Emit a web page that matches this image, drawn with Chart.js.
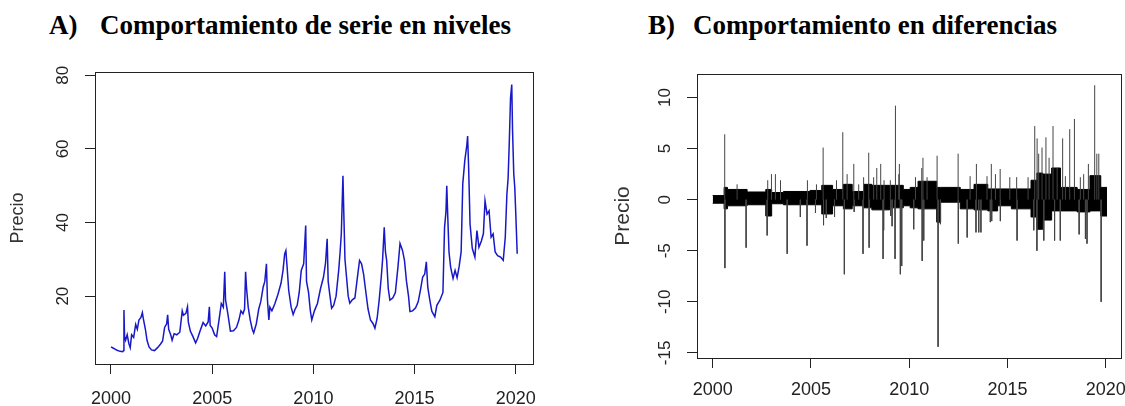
<!DOCTYPE html>
<html lang="es">
<head>
<meta charset="UTF-8">
<title>Comportamiento del precio</title>
<script src="https://cdn.jsdelivr.net/npm/chart.js"></script>
<style>
  body { margin: 0; background: #fff; width: 1125px; height: 406px; position: relative; overflow: hidden; }
  .titulo { position: absolute; top: 12px; font-family: "Liberation Serif", "Times New Roman", serif; font-weight: bold; font-size: 27px; line-height: 27px; color: #000; white-space: nowrap; }
  canvas { position: absolute; }
</style>
</head>
<body>
<div class="titulo" style="left:49px">A)</div>
<div class="titulo" style="left:100px">Comportamiento de serie en niveles</div>
<div class="titulo" style="left:648px">B)</div>
<div class="titulo" style="left:693px">Comportamiento en diferencias</div>
<canvas id="niveles" width="560" height="361" style="left:0;top:45px"></canvas>
<canvas id="diferencias" width="535" height="361" style="left:590px;top:45px"></canvas>
<script>
// ticks
const yearTicks = [2000, 2005, 2010, 2015, 2020];
const nivelTicks = [20, 40, 60, 80];
const difTicks = [-15, -10, -5, 0, 5, 10];

// A) price level
const nivelAnio = [
  2000.00, 2000.10, 2000.20, 2000.30, 2000.45, 2000.58, 2000.62, 2000.64, 2000.67, 2000.72,
  2000.80, 2000.88, 2000.95, 2001.02, 2001.12, 2001.22, 2001.30, 2001.38, 2001.48, 2001.55,
  2001.60, 2001.70, 2001.78, 2001.88, 2002.00, 2002.15, 2002.30, 2002.45, 2002.55, 2002.65,
  2002.75, 2002.80, 2002.85, 2002.95, 2003.02, 2003.12, 2003.25, 2003.40, 2003.52, 2003.58,
  2003.70, 2003.78, 2003.82, 2003.92, 2004.05, 2004.18, 2004.28, 2004.40, 2004.55, 2004.68,
  2004.80, 2004.86, 2004.90, 2005.00, 2005.12, 2005.22, 2005.35, 2005.45, 2005.55, 2005.62,
  2005.66, 2005.78, 2005.90, 2006.05, 2006.20, 2006.32, 2006.42, 2006.52, 2006.60, 2006.65,
  2006.70, 2006.78, 2006.88, 2006.98, 2007.05, 2007.18, 2007.30, 2007.40, 2007.52, 2007.60,
  2007.68, 2007.73, 2007.80, 2007.85, 2007.95, 2008.10, 2008.25, 2008.40, 2008.50, 2008.58,
  2008.64, 2008.70, 2008.78, 2008.90, 2009.00, 2009.10, 2009.20, 2009.30, 2009.40, 2009.52,
  2009.62, 2009.66, 2009.76, 2009.85, 2009.92, 2010.05, 2010.20, 2010.35, 2010.50, 2010.60,
  2010.68, 2010.73, 2010.82, 2010.90, 2011.00, 2011.12, 2011.25, 2011.32, 2011.38, 2011.46,
  2011.50, 2011.56, 2011.64, 2011.72, 2011.80, 2011.92, 2012.05, 2012.15, 2012.28, 2012.38,
  2012.48, 2012.58, 2012.70, 2012.82, 2012.95, 2013.04, 2013.15, 2013.25, 2013.35, 2013.42,
  2013.50, 2013.56, 2013.62, 2013.70, 2013.78, 2013.92, 2014.05, 2014.18, 2014.28, 2014.40,
  2014.50, 2014.60, 2014.70, 2014.77, 2014.90, 2015.05, 2015.18, 2015.30, 2015.40, 2015.50,
  2015.58, 2015.65, 2015.75, 2015.85, 2016.00, 2016.10, 2016.25, 2016.40, 2016.48, 2016.55,
  2016.59, 2016.64, 2016.70, 2016.78, 2016.90, 2017.00, 2017.10, 2017.20, 2017.30, 2017.38,
  2017.48, 2017.58, 2017.62, 2017.67, 2017.74, 2017.85, 2017.98, 2018.08, 2018.18, 2018.30,
  2018.40, 2018.48, 2018.58, 2018.68, 2018.78, 2018.88, 2018.98, 2019.10, 2019.25, 2019.38,
  2019.48, 2019.56, 2019.62, 2019.68, 2019.74, 2019.80, 2019.84, 2019.90, 2019.95, 2020.00,
  2020.07
];
const nivelPrecio = [
  6.2, 5.9, 5.6, 5.3, 5.0, 4.9, 5.2, 16.2, 9.0, 8.0,
  9.5, 7.2, 6.0, 9.5, 8.8, 12.3, 11.0, 13.5, 14.2, 15.5,
  13.8, 11.0, 8.0, 6.2, 5.4, 5.2, 6.0, 7.0, 7.8, 11.5,
  12.5, 14.9, 11.0, 9.5, 8.0, 9.8, 9.5, 10.2, 16.0, 14.8,
  15.3, 17.1, 13.0, 10.5, 9.0, 7.3, 8.5, 10.5, 12.8, 11.9,
  13.0, 17.1, 12.0, 11.3, 9.5, 9.0, 14.0, 18.0, 17.0, 26.6,
  19.0, 15.0, 10.5, 10.6, 11.5, 13.5, 16.0, 15.2, 16.5, 26.6,
  22.0, 17.0, 13.5, 11.0, 10.0, 12.5, 16.5, 18.5, 22.5, 24.0,
  28.8, 19.0, 13.5, 17.0, 16.0, 18.0, 20.5, 23.5, 27.0, 31.5,
  32.4, 28.0, 21.6, 17.0, 15.0, 16.5, 17.5, 21.0, 27.0, 28.8,
  39.2, 24.0, 21.0, 16.0, 13.5, 16.0, 18.0, 22.0, 25.2, 29.0,
  35.6, 24.0, 20.0, 16.7, 17.5, 20.0, 27.0, 32.0, 37.0, 52.7,
  43.2, 30.0, 25.0, 20.0, 18.1, 19.0, 19.5, 24.0, 29.7, 28.8,
  26.0, 21.6, 16.5, 13.5, 12.5, 11.3, 14.0, 18.9, 25.0, 30.0,
  38.7, 32.0, 29.7, 22.0, 18.9, 19.5, 21.0, 28.0, 34.3, 32.5,
  29.7, 24.0, 20.0, 15.8, 16.0, 16.8, 18.5, 22.0, 25.2, 26.0,
  29.3, 22.5, 19.0, 15.9, 14.4, 17.5, 18.9, 21.0, 38.7, 43.0,
  50.0, 41.4, 32.0, 27.9, 24.8, 27.0, 25.0, 28.0, 32.0, 50.5,
  56.8, 61.0, 63.5, 55.0, 39.6, 33.0, 30.6, 37.8, 33.3, 35.0,
  37.0, 45.9, 42.3, 43.2, 36.0, 36.9, 32.0, 31.0, 30.6, 29.7,
  36.0, 47.7, 52.0, 62.0, 73.9, 77.5, 65.0, 53.2, 49.5, 42.3,
  31.5
];

// B) differences: dense band (start of each stretch, top, bottom) ...
const bandaAnio = [2000.00, 2000.58, 2000.75, 2001.75, 2002.70, 2003.00, 2003.60, 2004.95, 2005.55, 2006.10,
  2006.65, 2007.10, 2007.70, 2008.10, 2009.00, 2009.70, 2010.05, 2010.45, 2011.40, 2011.60,
  2012.60, 2013.30, 2014.00, 2014.50, 2015.20, 2016.20, 2016.50, 2016.80, 2017.25, 2017.70,
  2018.55, 2019.20, 2019.75, 2020.07];
const bandaAlto = [0.4, 1.2, 1.0, 0.75, 1.0, 0.7, 0.8, 0.9, 1.4, 1.0,
  1.5, 0.8, 1.5, 1.4, 1.4, 1.0, 1.2, 1.8, 1.2, 1.2,
  1.0, 1.5, 1.05, 1.05, 1.05, 1.9, 2.6, 2.5, 3.1, 1.2,
  1.0, 2.35, 1.2, 1.2];
const bandaBajo = [-0.35, -0.9, -0.6, -0.5, -1.6, -0.4, -0.5, -0.5, -1.4, -0.6,
  -0.9, -0.6, -0.8, -1.0, -0.8, -0.6, -0.8, -0.9, -2.2, -0.25,
  -0.9, -1.0, -1.1, -0.6, -0.9, -1.7, -2.9, -2.0, -1.1, -1.1,
  -1.2, -1.1, -1.6, -1.6];

// ... and the single spikes that stick out of it
const picoAnio = [
  2000.61, 2000.62, 2001.24, 2001.70, 2002.77, 2002.80, 2002.99, 2003.19, 2003.45, 2003.79,
  2004.46, 2004.80, 2004.82, 2005.23, 2005.28, 2005.62, 2005.64, 2005.78, 2006.20, 2006.30,
  2006.62, 2006.70, 2006.84, 2007.18, 2007.20, 2007.43, 2007.65, 2007.68, 2007.94, 2007.96,
  2008.19, 2008.35, 2008.55, 2008.67, 2008.70, 2008.72, 2009.04, 2009.06, 2009.13, 2009.28,
  2009.30, 2009.47, 2009.50, 2009.55, 2009.62, 2010.23, 2010.32, 2010.64, 2010.66, 2010.70,
  2010.74, 2010.91, 2011.42, 2011.47, 2011.59, 2012.49, 2012.50, 2012.95, 2013.10, 2013.40,
  2013.42, 2013.54, 2013.65, 2013.96, 2014.13, 2014.18, 2014.20, 2014.39, 2014.63, 2014.64,
  2015.12, 2015.47, 2015.49, 2016.05, 2016.34, 2016.39, 2016.50, 2016.51, 2016.59, 2016.76,
  2016.85, 2016.96, 2017.12, 2017.32, 2017.40, 2017.53, 2017.69, 2017.81, 2017.95, 2018.17,
  2018.41, 2018.65, 2018.71, 2018.88, 2018.97, 2019.05, 2019.12, 2019.44, 2019.55, 2019.65,
  2019.77
];
const picoValor = [
  6.4, -6.7, 1.5, -4.7, -3.5, 1.9, 2.5, 2.5, 1.9, -5.3,
  -1.7, -4.5, 1.9, -1.3, 1.5, 5.1, -2.5, -1.8, -1.7, 1.9,
  6.6, -7.3, 2.5, 3.5, -1.2, 1.5, -5.3, 2.2, 4.6, -4.7,
  2.2, 3.1, 3.5, -5.8, -3.0, 1.9, 1.9, -1.6, -2.6, -5.8,
  9.2, 2.5, 3.5, -7.3, -6.5, -2.9, 2.2, 3.1, -6.0, 4.1,
  -4.0, 2.2, 4.3, -14.4, -2.4, 4.5, -4.3, -3.7, 2.3, -3.2,
  3.5, -3.2, -3.2, 2.3, -2.2, 3.5, -2.1, 2.5, 3.0, -2.1,
  2.2, 2.2, -4.0, 2.2, -3.0, 7.2, -5.0, 6.0, 4.5, 5.1,
  -4.0, 6.1, 4.1, 7.2, -4.0, 3.1, -4.0, 6.0, 2.3, 6.9,
  7.9, -3.4, 2.2, 2.5, -3.85, -4.3, 3.5, 11.2, 4.5, 4.5,
  -10.0
];

const family = '"Liberation Sans", Arial, sans-serif';
const axisColor = '#222';
const textColor = '#222';

// box around the plot area, like base R graphics
const boxPlugin = {
  id: 'box',
  afterDraw(chart) {
    const { ctx, chartArea: a } = chart;
    ctx.save();
    ctx.strokeStyle = axisColor;
    ctx.lineWidth = 1;
    ctx.strokeRect(Math.round(a.left) + 0.5, Math.round(a.top) + 0.5,
      Math.round(a.right - a.left), Math.round(a.bottom - a.top));
    ctx.restore();
  }
};

function rScales(o) {
  return {
    x: {
      type: 'linear', min: o.xMin, max: o.xMax, offset: false,
      afterBuildTicks: s => { s.ticks = yearTicks.map(v => ({ value: v })); },
      afterFit: s => { s.height = o.xHeight; s.paddingLeft = 0; s.paddingRight = 0; },
      grid: { drawOnChartArea: false, tickLength: 10, color: axisColor },
      border: { color: axisColor },
      ticks: { font: { family, size: 18 }, color: textColor, padding: o.xPad,
        maxRotation: 0, autoSkip: false, callback: v => String(v) }
    },
    y: {
      type: 'linear', min: o.yMin, max: o.yMax,
      afterBuildTicks: s => { s.ticks = o.yTicks.map(v => ({ value: v })); },
      afterFit: s => { s.width = o.yWidth; s.paddingTop = 0; s.paddingBottom = 0; },
      grid: { drawOnChartArea: false, tickLength: 10, color: axisColor },
      border: { color: axisColor },
      ticks: { font: { family, size: 17 }, color: textColor, padding: o.yPad,
        minRotation: 90, maxRotation: 90, crossAlign: 'center', autoSkip: false,
        callback: v => String(v) },
      title: { display: true, text: 'Precio', color: '#333',
        font: { family, size: o.titleSize }, padding: { top: o.titlePad, bottom: 0 } }
    }
  };
}

const common = {
  responsive: false,
  animation: false,
  devicePixelRatio: 1,
  plugins: { legend: { display: false }, tooltip: { enabled: false } },
  elements: { point: { radius: 0 } }
};

new Chart(document.getElementById('niveles'), {
  type: 'line',
  data: {
    datasets: [{
      data: nivelAnio.map((t, i) => ({ x: t, y: nivelPrecio[i] })),
      borderColor: 'rgb(24,24,200)',
      borderWidth: 1.5,
      tension: 0
    }]
  },
  options: {
    ...common,
    layout: { padding: { top: 27, right: 27, left: 0, bottom: 0 } },
    scales: rScales({ xMin: 1999.21, xMax: 2020.85, xHeight: 42, xPad: 14,
      yMin: 1.56, yMax: 80.9, yTicks: nivelTicks, yWidth: 95, yPad: 12,
      titleSize: 18, titlePad: 7 })
  },
  plugins: [boxPlugin]
});

// spikes as vertical strokes from zero, broken between each other
const picoPuntos = [];
picoAnio.forEach((t, i) => {
  picoPuntos.push({ x: t, y: 0 }, { x: t, y: picoValor[i] }, { x: t, y: null });
});

new Chart(document.getElementById('diferencias'), {
  type: 'line',
  data: {
    datasets: [
      {
        data: picoPuntos,
        borderColor: '#444',
        borderWidth: 1,
        spanGaps: false,
        fill: false
      },
      {
        data: bandaAnio.map((t, i) => ({ x: t, y: bandaBajo[i] })),
        borderColor: '#000',
        borderWidth: 1,
        stepped: true,
        fill: false
      },
      {
        data: bandaAnio.map((t, i) => ({ x: t, y: bandaAlto[i] })),
        borderColor: '#000',
        borderWidth: 1,
        backgroundColor: '#000',
        stepped: true,
        fill: '-1'
      }
    ]
  },
  options: {
    ...common,
    layout: { padding: { top: 29, right: 4, left: 0, bottom: 0 } },
    scales: rScales({ xMin: 1999.2, xMax: 2020.78, xHeight: 48, xPad: 11.5,
      yMin: -15.5, yMax: 12.3, yTicks: difTicks, yWidth: 107, yPad: 9.5,
      titleSize: 21, titlePad: 21 })
  },
  plugins: [boxPlugin]
});
</script>
</body>
</html>
